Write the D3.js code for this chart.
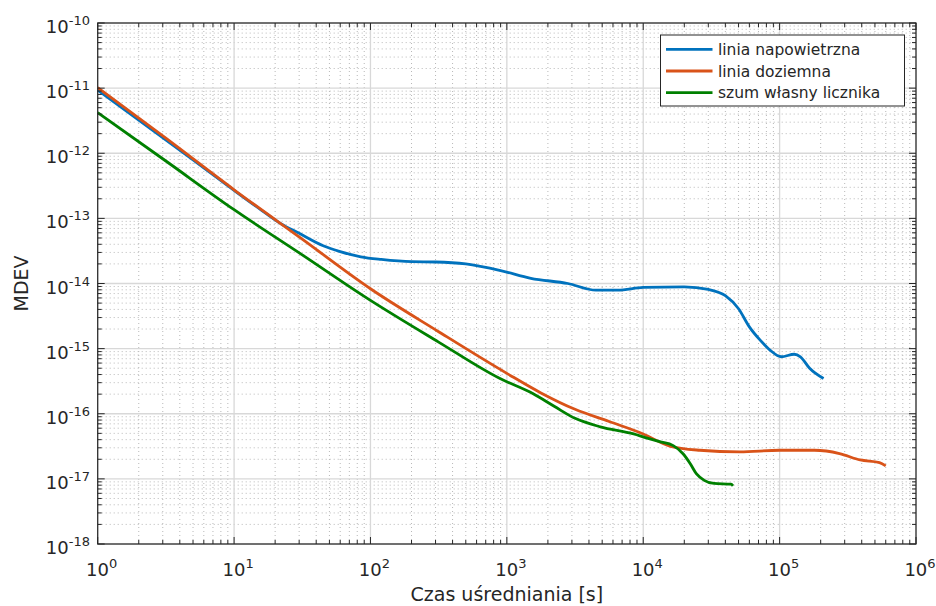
<!DOCTYPE html>
<html>
<head>
<meta charset="utf-8">
<script src="https://cdn.jsdelivr.net/npm/d3@7"></script>
<style>
  html, body { margin: 0; padding: 0; background: #fff; }
  svg { display: block; font-family: "DejaVu Sans", sans-serif; }
</style>
</head>
<body>
<svg id="chart" width="936" height="606"></svg>
<script>
// Averaging times [s] and modified Allan deviation for each measurement
const tauOverhead = [1, 2, 5, 10, 16, 22, 30, 45, 60, 85, 120, 200, 300, 500, 900, 1500, 2800, 4500, 6500, 1e4, 2e4, 3e4, 4e4, 5e4, 6e4, 7.2e4, 8.5e4, 1.03e5, 1.28e5, 1.42e5, 1.66e5, 2.1e5];
const mdevOverhead = [9.3e-12, 3.24e-12, 7.9e-13, 2.69e-13, 1.32e-13, 8.3e-14, 5.9e-14, 3.8e-14, 3.09e-14, 2.57e-14, 2.34e-14, 2.16e-14, 2.14e-14, 2.0e-14, 1.58e-14, 1.2e-14, 1.0e-14, 7.9e-15, 7.9e-15, 8.7e-15, 8.9e-15, 8.1e-15, 6.5e-15, 4.1e-15, 2.16e-15, 1.35e-15, 9.5e-16, 7.5e-16, 8.2e-16, 7.5e-16, 5.0e-16, 3.48e-16];

const tauUnderground = [1, 3.16, 10, 31.6, 100, 316, 1000, 1778, 3162, 5623, 1e4, 1.58e4, 2.6e4, 5.1e4, 1e5, 1.8e5, 2.75e5, 3.9e5, 5.4e5, 6.0e5];
const mdevUnderground = [1.02e-11, 1.70e-12, 2.75e-13, 4.79e-14, 8.3e-15, 1.82e-15, 4.17e-16, 2.09e-16, 1.17e-16, 7.6e-17, 4.9e-17, 3.16e-17, 2.75e-17, 2.6e-17, 2.75e-17, 2.75e-17, 2.45e-17, 1.95e-17, 1.78e-17, 1.58e-17];

const tauCounter = [1, 3.16, 10, 31.6, 100, 316, 891, 1549, 2239, 3162, 4842, 8511, 1.05e4, 1.32e4, 1.66e4, 1.95e4, 2.2e4, 2.45e4, 2.8e4, 3.3e4, 4.4e4, 4.55e4];
const mdevCounter = [4.19e-12, 7.6e-13, 1.36e-13, 2.75e-14, 5.5e-15, 1.26e-15, 3.47e-16, 2.04e-16, 1.29e-16, 8.5e-17, 6.3e-17, 4.9e-17, 4.27e-17, 3.72e-17, 3.24e-17, 2.45e-17, 1.74e-17, 1.2e-17, 9.5e-18, 8.5e-18, 8.3e-18, 7.8e-18];

const seriesNames = ["linia napowietrzna", "linia doziemna", "szum własny licznika"];
const seriesColors = ["#0072BD", "#D95319", "#008000"];

const xTickExponents = [0, 1, 2, 3, 4, 5, 6];
const yTickExponents = [-10, -11, -12, -13, -14, -15, -16, -17, -18];

const xLabel = "Czas uśredniania [s]";
const yLabel = "MDEV";

const series = [
  { name: seriesNames[0], color: seriesColors[0], tau: tauOverhead, mdev: mdevOverhead },
  { name: seriesNames[1], color: seriesColors[1], tau: tauUnderground, mdev: mdevUnderground },
  { name: seriesNames[2], color: seriesColors[2], tau: tauCounter, mdev: mdevCounter }
];

const svg = d3.select("#chart");
const W = 936, H = 606;
const margin = { left: 97.7, right: W - 916, top: 23, bottom: H - 544 };
const x0 = margin.left, x1 = W - margin.right, y0 = margin.top, y1 = H - margin.bottom;

const x = d3.scaleLog().domain([1, 1e6]).range([x0, x1]);
const y = d3.scaleLog().domain([1e-18, 1e-10]).range([y1, y0]);

const axisColor = "#262626";

// minor values (2..9) inside each decade
function minorValues(lo, hi) {
  const out = [];
  for (let e = lo; e < hi; e++) {
    for (let m = 2; m <= 9; m++) out.push(m * Math.pow(10, e));
  }
  return out;
}
const xMinor = minorValues(0, 6);
const yMinor = minorValues(-18, -10);
const xMajor = xTickExponents.map(e => Math.pow(10, e));
const yMajor = yTickExponents.map(e => Math.pow(10, e));

const grid = svg.append("g");
// minor grid (dotted)
grid.selectAll(".xm").data(xMinor).enter().append("line")
  .attr("x1", d => x(d)).attr("x2", d => x(d)).attr("y1", y0).attr("y2", y1)
  .attr("stroke", "#b8b8b8").attr("stroke-width", 1).attr("stroke-dasharray", "1,3");
grid.selectAll(".ym").data(yMinor).enter().append("line")
  .attr("y1", d => y(d)).attr("y2", d => y(d)).attr("x1", x0).attr("x2", x1)
  .attr("stroke", "#b8b8b8").attr("stroke-width", 1).attr("stroke-dasharray", "1,3");
// major grid (solid light)
grid.selectAll(".xM").data(xMajor).enter().append("line")
  .attr("x1", d => x(d)).attr("x2", d => x(d)).attr("y1", y0).attr("y2", y1)
  .attr("stroke", "#d8d8d8").attr("stroke-width", 1.3);
grid.selectAll(".yM").data(yMajor).enter().append("line")
  .attr("y1", d => y(d)).attr("y2", d => y(d)).attr("x1", x0).attr("x2", x1)
  .attr("stroke", "#d8d8d8").attr("stroke-width", 1.3);

// data lines
const line = d3.line()
  .x(d => x(d[0])).y(d => y(d[1]))
  .curve(d3.curveMonotoneX);

const plot = svg.append("g");
series.forEach(s => {
  const pts = s.tau.map((t, i) => [t, s.mdev[i]]);
  plot.append("path")
    .datum(pts)
    .attr("d", line)
    .attr("fill", "none")
    .attr("stroke", s.color)
    .attr("stroke-width", 2.8)
    .attr("stroke-linejoin", "round");
});

// ticks on all four sides, pointing inward
const ticks = svg.append("g").attr("stroke", axisColor).attr("stroke-width", 1);
const majLen = 7, minLen = 4;
[[y1, -1], [y0, 1]].forEach(([yy, dir]) => {
  xMajor.forEach(v => ticks.append("line").attr("x1", x(v)).attr("x2", x(v)).attr("y1", yy).attr("y2", yy + dir * majLen));
  xMinor.forEach(v => ticks.append("line").attr("x1", x(v)).attr("x2", x(v)).attr("y1", yy).attr("y2", yy + dir * minLen));
});
[[x0, 1], [x1, -1]].forEach(([xx, dir]) => {
  yMajor.forEach(v => ticks.append("line").attr("y1", y(v)).attr("y2", y(v)).attr("x1", xx).attr("x2", xx + dir * majLen));
  yMinor.forEach(v => ticks.append("line").attr("y1", y(v)).attr("y2", y(v)).attr("x1", xx).attr("x2", xx + dir * minLen));
});

// axes box
svg.append("rect")
  .attr("x", x0).attr("y", y0).attr("width", x1 - x0).attr("height", y1 - y0)
  .attr("fill", "none").attr("stroke", axisColor).attr("stroke-width", 1.2);

// tick labels with superscripted exponents
const labelColor = "#262626";
function powLabel(g, exp, px, py, anchor) {
  const t = g.append("text")
    .attr("x", px).attr("y", py)
    .attr("text-anchor", anchor)
    .attr("fill", labelColor)
    .attr("font-size", 18);
  t.append("tspan").text("10");
  t.append("tspan").attr("dy", -8).attr("font-size", 13).text(String(exp));
  return t;
}
const lbl = svg.append("g");
xTickExponents.forEach(e => {
  powLabel(lbl, e, x(Math.pow(10, e)) + 4, 576, "middle");
});
yTickExponents.forEach(e => {
  powLabel(lbl, e, 90, y(Math.pow(10, e)) + 10, "end");
});

// axis titles
svg.append("text")
  .attr("x", (x0 + x1) / 2).attr("y", 601)
  .attr("text-anchor", "middle").attr("fill", labelColor)
  .attr("font-size", 19).text(xLabel);
svg.append("text")
  .attr("transform", `translate(28, ${(y0 + y1) / 2}) rotate(-90)`)
  .attr("text-anchor", "middle").attr("fill", labelColor)
  .attr("font-size", 19).text(yLabel);

// legend
const lg = svg.append("g");
const lx = 660.5, ly = 35, lw = 244, lh = 71;
lg.append("rect").attr("x", lx).attr("y", ly).attr("width", lw).attr("height", lh)
  .attr("fill", "#fff").attr("stroke", axisColor).attr("stroke-width", 1);
series.forEach((s, i) => {
  const cy = 49.3 + i * 21.7;
  lg.append("line").attr("x1", 666).attr("x2", 712.5).attr("y1", cy).attr("y2", cy)
    .attr("stroke", s.color).attr("stroke-width", 2.8);
  lg.append("text").attr("x", 718).attr("y", cy + 5.5)
    .attr("fill", labelColor).attr("font-size", 15.5).text(s.name);
});
</script>
</body>
</html>
